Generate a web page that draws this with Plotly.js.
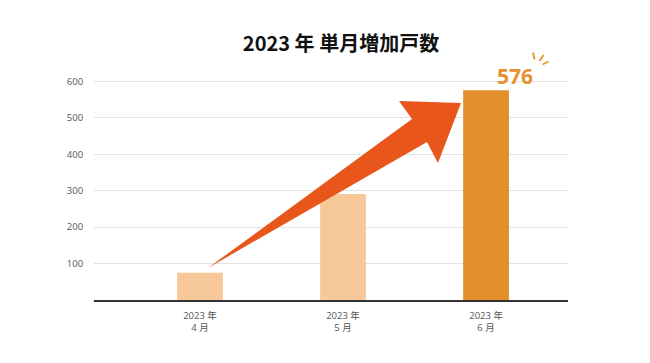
<!DOCTYPE html>
<html>
<head>
<meta charset="utf-8">
<script src="https://cdn.plot.ly/plotly-3.0.1.min.js"></script>
<style>html,body{margin:0;padding:0;background:#fff;}#chart{width:650px;height:363px;}</style>
</head>
<body>
<div id="chart"></div>
<script>
const categories = ["2023 年<br>4 月", "2023 年<br>5 月", "2023 年<br>6 月"];
const values = [75, 291, 576];
const barColors = ["#F7C899", "#F7C899", "#E28F2C"];
const yTicks = [100, 200, 300, 400, 500, 600];
const titleText = "2023 年 単月増加戸数";

const W = 650, H = 363;
const M = {l: 94, r: 82, t: 80, b: 63};
const pw = W - M.l - M.r, ph = H - M.t - M.b;
const px2x = p => (p - M.l) / pw;
const py2y = p => (H - M.b - p) / ph;

const positions = categories.map((c, i) => i);
const font = "'Open Sans', 'Noto Sans CJK JP', sans-serif";

// decorative arrow (paper coordinates)
const arrowPts = [[208,268],[427,142],[438,163],[461,103],[399,101],[412,119]];
const arrowPath = arrowPts.map((p,i)=> (i?'L':'M') + px2x(p[0]).toFixed(4) + ',' + py2y(p[1]).toFixed(4)).join(' ') + ' Z';

const burst = [[[533,52.5],[534.5,59.5]],[[543.5,55],[539.5,61]],[[548.5,61.5],[542.5,64.5]]];

const shapes = [{
  type: 'path', xref: 'paper', yref: 'paper', path: arrowPath,
  fillcolor: '#E8561B', line: {width: 0}, layer: 'above'
}].concat(burst.map(s => ({
  type: 'line', xref: 'paper', yref: 'paper',
  x0: px2x(s[0][0]), y0: py2y(s[0][1]), x1: px2x(s[1][0]), y1: py2y(s[1][1]),
  line: {color: '#E8912F', width: 1.8}
})));

const trace = {
  type: 'bar', x: positions, y: values, width: 0.32,
  marker: {color: barColors, line: {width: 0}},
  hoverinfo: 'none'
};

const last = values.length - 1;
const layout = {
  width: W, height: H,
  margin: M,
  paper_bgcolor: '#fff', plot_bgcolor: '#fff',
  showlegend: false,
  font: {family: font, color: '#555'},
  title: {
    text: titleText, x: 341 / W, xanchor: 'center', y: 1 - 44 / H, yanchor: 'middle',
    font: {family: "'Noto Sans CJK JP', sans-serif", size: 20, color: '#111', weight: 'bold'}
  },
  xaxis: {
    type: 'linear', range: [-0.741, 2.573], tickvals: positions, ticktext: categories,
    showgrid: false, zeroline: false, showline: true, linecolor: '#333', linewidth: 1.5,
    ticks: 'outside', ticklen: 6, tickcolor: 'rgba(0,0,0,0)',
    tickfont: {size: 9.5, color: '#555', family: font}, fixedrange: true
  },
  yaxis: {
    range: [0, 604], tickvals: yTicks, showgrid: true, gridcolor: '#e3e3e3', gridwidth: 1,
    zeroline: false, showline: false,
    ticks: 'outside', ticklen: 8, tickcolor: 'rgba(0,0,0,0)',
    tickfont: {size: 9.5, color: '#555', family: font}, fixedrange: true
  },
  shapes: shapes,
  annotations: [{
    x: positions[last], y: values[last], xref: 'x', yref: 'y',
    text: String(values[last]), showarrow: false,
    xshift: 29, yshift: 14, yanchor: 'middle', xanchor: 'center',
    font: {family: "'Open Sans', sans-serif", size: 21, color: '#E8912F', weight: 'bold'}
  }]
};

Plotly.newPlot('chart', [trace], layout, {displayModeBar: false, staticPlot: true});
</script>
</body>
</html>
